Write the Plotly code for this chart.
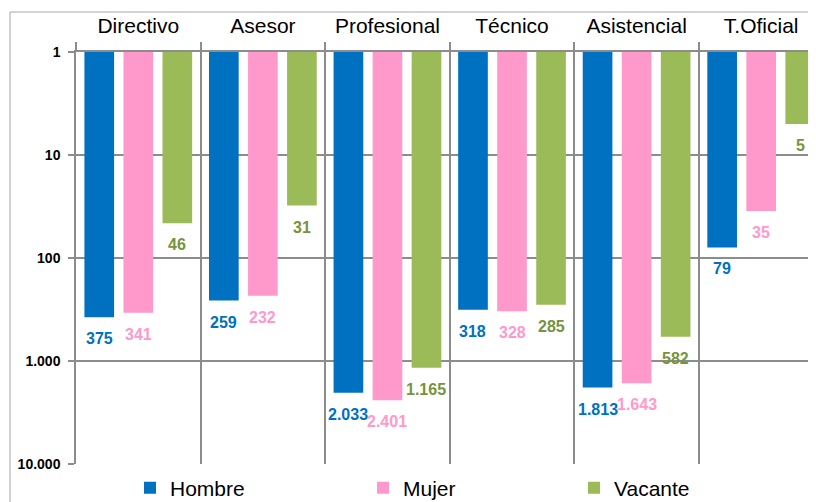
import plotly.graph_objects as go
import math

categories = ["Directivo", "Asesor", "Profesional", "Técnico", "Asistencial", "T.Oficial"]
hombre = [375, 259, 2033, 318, 1813, 79]
mujer = [341, 232, 2401, 328, 1643, 35]
vacante = [46, 31, 1165, 285, 582, 5]
series_names = ["Hombre", "Mujer", "Vacante"]
tick_values = [1, 10, 100, 1000, 10000]
tick_labels = ["1", "10", "100", "1.000", "10.000"]

bar_colors = ["#0070C0", "#FF99CC", "#9BBB59"]
label_colors = ["#0070C0", "#FF99CC", "#77933C"]
grid_color = "#8c8c8c"
FONT = "Liberation Sans, Arial, sans-serif"

# page body has an 8px default margin; the figure is sized to fit the window
OFF = 8
W, H = 816 - OFF, 502 - OFF
ML, MT = 76 - OFF, 52 - OFF
MR = 0
MB = H - MT - 412
x_range = [-0.5, 5.44]
bargap = 0.06
bargroupgap = 0.24
pw = W - ML - MR
ph = H - MT - MB

series = [hombre, mujer, vacante]
legend_ids = ["legend", "legend2", "legend3"]
legend_x_px = [122, 355, 566]
legend_y_px = 488 - OFF

def fmt(v):
    return f"{v:,}".replace(",", ".")

fig = go.Figure()
for j, (name, vals) in enumerate(zip(series_names, series)):
    fig.add_trace(go.Bar(
        x=categories,
        y=[v - 1 for v in vals],
        base=[1] * len(vals),
        name=name,
        marker=dict(color=bar_colors[j], line=dict(width=0)),
        legend=legend_ids[j],
        hoverinfo="skip",
    ))

cat_px = pw / (x_range[1] - x_range[0])
slot = cat_px * (1 - bargap) / 3
annotations = []
for j, vals in enumerate(series):
    for i, v in enumerate(vals):
        annotations.append(dict(
            x=categories[i], y=math.log10(v), xref="x", yref="y",
            text=fmt(v), showarrow=False,
            xanchor="center", yanchor="top",
            xshift=(j - 1) * slot, yshift=-11,
            font=dict(family=FONT, size=16, color=label_colors[j], weight="bold"),
        ))

layout_legends = {}
for j, lid in enumerate(legend_ids):
    layout_legends[lid] = dict(
        orientation="h", x=(legend_x_px[j] - ML) / pw, y=-(legend_y_px - (H - MB)) / ph,
        xanchor="left", yanchor="middle",
        font=dict(family=FONT, size=21, color="#000000"),
        bgcolor="rgba(0,0,0,0)", borderwidth=0,
    )

frame_x = (10 - OFF - ML) / pw
frame_y = (H - MB - (12 - OFF)) / ph
shapes = [
    dict(type="line", xref="paper", yref="paper", x0=frame_x, x1=1.1, y0=frame_y, y1=frame_y,
         line=dict(color="#a6a6a6", width=1)),
    dict(type="line", xref="paper", yref="paper", x0=frame_x, x1=frame_x, y0=frame_y, y1=-0.2,
         line=dict(color="#a6a6a6", width=1)),
]

fig.update_layout(
    width=W, height=H,
    margin=dict(l=ML, r=MR, t=MT, b=MB, pad=0, autoexpand=False),
    paper_bgcolor="white", plot_bgcolor="white",
    barmode="group", bargap=bargap, bargroupgap=bargroupgap,
    font=dict(family=FONT, color="#000000"),
    showlegend=True,
    annotations=annotations,
    shapes=shapes,
    **layout_legends,
)
fig.update_xaxes(
    type="category", side="top", range=x_range, automargin=False,
    tickson="boundaries", ticks="outside", ticklen=8, tickcolor=grid_color, tickwidth=1.5,
    showgrid=True, gridcolor=grid_color, gridwidth=1.5,
    showline=True, linecolor=grid_color, linewidth=1.5,
    tickfont=dict(family=FONT, size=21, color="#000000"),
    ticklabelstandoff=9,
    fixedrange=True,
)
fig.update_yaxes(
    type="log", range=[4, 0], automargin=False,
    tickvals=tick_values, ticktext=tick_labels,
    ticks="outside", ticklen=6, tickcolor=grid_color, tickwidth=1.5,
    showgrid=True, gridcolor=grid_color, gridwidth=1.5,
    showline=True, linecolor=grid_color, linewidth=1.5,
    zeroline=False,
    tickfont=dict(family=FONT, size=14, color="#000000", weight="bold"),
    ticklabelstandoff=5,
    fixedrange=True,
)
fig.write_html("out.html")
